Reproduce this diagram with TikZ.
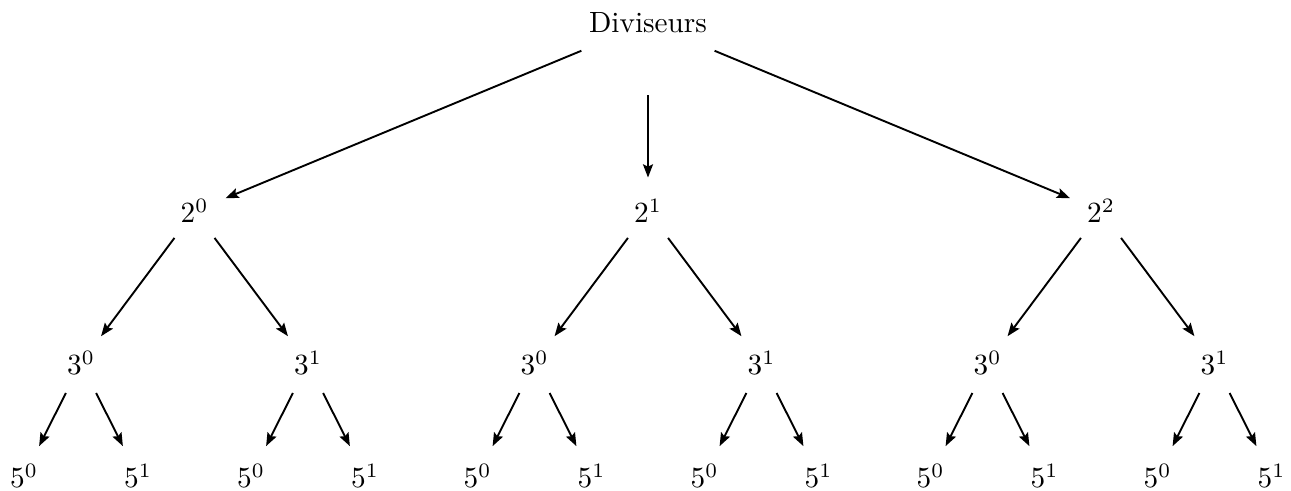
\documentclass[tikz,border=0pt]{standalone}
\usetikzlibrary{arrows.meta}
\begin{document}
\begin{tikzpicture}[x=0.3415pt,y=-0.3415pt,
  lbl/.style={circle,inner sep=0pt,minimum size=22.5pt,anchor=base},
  rootlbl/.style={circle,inner sep=3.333pt,anchor=base},
  arr/.style={line width=0.65pt,-{Stealth[length=4.5pt,width=3.4pt,inset=0.8pt]}}]
\useasboundingbox (0,0) rectangle (1291,491);
\node[rootlbl] (r) at (648,33) {Diviseurs};
\foreach \i/\x/\e in {1/194.5/0,2/648/1,3/1101/2} {
  \node[lbl] (a\i) at (\x,223) {$2^{\e}$};
  \draw[arr] (r) -- (a\i);
  \foreach \j/\dx/\f in {1/-113.5/0,2/113.5/1} {
    \node[lbl] (b\i\j) at (\x+\dx,375) {$3^{\f}$};
    \draw[arr] (a\i) -- (b\i\j);
    \foreach \k/\ddx/\g in {1/-57/0,2/57/1} {
      \node[lbl] (c\i\j\k) at (\x+\dx+\ddx,488) {$5^{\g}$};
      \draw[arr] (b\i\j) -- (c\i\j\k);
    }
  }
}
\end{tikzpicture}
\end{document}
